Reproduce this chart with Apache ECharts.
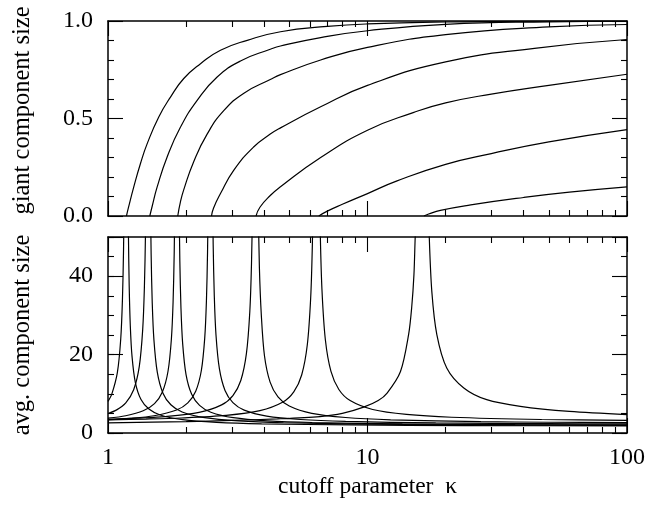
<!DOCTYPE html>
<html><head><meta charset="utf-8">
<script src="https://cdn.jsdelivr.net/npm/echarts@6/dist/echarts.min.js"></script>
<style>html,body{margin:0;padding:0;background:#fff}#c{width:654px;height:513px}</style>
</head><body><div id="c"></div>
<script>
// ---- Data (kappa, value) ----
const xTickMajor = [1, 10, 100];
const xTickMinor = [2,3,4,5,6,7,8,9,20,30,40,50,60,70,80,90];
const topYTicks = [0, 0.5, 1.0];
const bottomYLabels = [0, 20, 40];

// giant component size S(kappa), one curve per exponent
const giant1 = [[1.178,0],[1.2,0.045],[1.257,0.149],[1.334,0.269],[1.416,0.371],[1.569,0.508],[1.741,0.61],[1.959,0.705],[2.272,0.781],[2.713,0.85],[3.44,0.901],[4.62,0.945],[7,0.972],[10,0.985],[20,0.995],[50,0.999],[100,1.0]];
const giant2 = [[1.449,0],[1.48,0.05],[1.547,0.149],[1.69,0.303],[1.903,0.456],[2.206,0.593],[2.634,0.713],[3.24,0.795],[4.22,0.855],[4.62,0.872],[6.6,0.915],[10,0.95],[20,0.983],[50,0.996],[100,0.999]];
const giant3 = [[1.857,0],[1.9,0.07],[1.959,0.135],[2.141,0.28],[2.41,0.42],[2.793,0.54],[3.34,0.63],[4.22,0.70],[4.62,0.725],[6.6,0.80],[10,0.865],[20,0.93],[50,0.97],[100,0.982]];
const giant4 = [[2.505,0],[2.55,0.04],[2.713,0.115],[3.05,0.234],[3.64,0.354],[4.22,0.42],[4.62,0.452],[6.6,0.56],[10,0.67],[20,0.79],[44,0.86],[100,0.905]];
const giant5 = [[3.72,0],[3.85,0.045],[4.22,0.105],[4.62,0.15],[6.6,0.30],[10,0.44],[15,0.53],[20,0.58],[30,0.625],[50,0.67],[100,0.727]];
const giant6 = [[6.49,0],[7,0.025],[8,0.06],[10,0.115],[13,0.18],[20,0.265],[30,0.32],[50,0.38],[100,0.443]];
const giant7 = [[16.5,0],[17.2,0.01],[19.1,0.029],[25,0.057],[40,0.095],[60,0.122],[100,0.149]];

// average component size <s>(kappa): branch below and above the transition
const avg1Below = [[1,8.06],[1.0335,9.85],[1.0865,15.4],[1.1196,24],[1.1365,33.9],[1.148,47],[1.156,64.9]];
const avg1Above = [[1.1912,76.6],[1.1984,51.6],[1.2068,37.6],[1.2189,27.3],[1.2374,19.6],[1.275,12.85],[1.3404,8.52],[1.4376,6.1],[1.5888,4.6],[1.9405,3.4],[2.6195,2.73],[3.9078,2.35],[8.697,2.05],[23.65,1.9],[100,1.8]];
const avg2Below = [[1,4.97],[1.08,5.9],[1.1708,7.7],[1.2557,11.04],[1.3201,17],[1.3603,26.3],[1.3808,36.9],[1.3947,51.1],[1.4045,70.4]];
const avg2Above = [[1.456,62.8],[1.4662,45.7],[1.4809,33.1],[1.5033,23.7],[1.5491,15.45],[1.6285,10.16],[1.7466,7.2],[1.9303,5.37],[2.3577,3.9],[3.1825,3.08],[4.7478,2.62],[10.566,2.25],[28.73,2.07],[100,1.96]];
const avg3Below = [[1,3.8],[1.17,4.41],[1.3668,5.67],[1.5106,7.5],[1.6201,10.46],[1.7032,15.75],[1.755,24],[1.7816,33.4],[1.7994,46],[1.8121,63.1]];
const avg3Above = [[1.8785,60.1],[1.8917,43.8],[1.9107,31.8],[1.9396,22.8],[1.9987,14.9],[2.1011,9.88],[2.2535,7.05],[2.4905,5.3],[3.0419,3.9],[4.1061,3.11],[6.1256,2.68],[13.633,2.33],[37.07,2.15],[100,2.06]];
const avg4Below = [[1,3.41],[1.22,3.75],[1.5042,4.4],[1.8372,5.87],[2.0305,7.7],[2.1777,10.66],[2.2893,15.95],[2.359,24.2],[2.3947,33.6],[2.4188,46.2],[2.4358,63.3]];
const avg4Above = [[2.525,65.9],[2.5428,48],[2.5683,34.9],[2.6071,25],[2.6866,16.4],[2.8243,10.85],[3.0291,7.75],[3.3477,5.83],[4.0888,4.3],[5.5193,3.44],[8.2339,2.96],[18.325,2.58],[49.82,2.38],[100,2.31]];
const avg5Below = [[1,3.49],[1.3,3.8],[1.6625,4.19],[2.2442,5.26],[2.741,7.17],[3.0293,9.55],[3.249,13.4],[3.4155,20.3],[3.5196,31],[3.5728,43.3],[3.6086,59.6]];
const avg5Above = [[3.7937,58.2],[3.8318,42.2],[3.897,30.2],[4.0082,19.7],[4.2137,12.97],[4.5192,9.2],[4.9945,6.87],[6.1003,5],[8.2345,3.95],[12.284,3.37],[27.34,2.9],[50,2.74],[100,2.63]];
const avg6Below = [[1,3.37],[1.4,3.56],[1.9126,3.83],[2.8532,4.5],[3.8515,5.7],[4.7042,7.83],[5.1989,10.5],[5.5759,14.8],[5.8618,22.5],[6.0403,34.5],[6.1316,48.2],[6.1932,66.5]];
const avg6Above = [[6.5108,70.6],[6.5762,51.2],[6.6756,36.6],[6.8789,23.85],[7.2316,15.7],[7.7559,11.1],[8.5716,8.27],[10.469,6],[14.132,4.73],[21.083,4.02],[46.92,3.45],[100,3.22]];
const avg7Below = [[1,2.6],[2,2.9],[3,3.2],[4.5,3.6],[6.56,4.2],[8,5],[9.66,6.6],[11,8.3],[11.9,10.2],[13.4,15.7],[14.4,25.1],[14.8,32],[15.1,40.4],[15.27,50],[15.45,58],[15.7,83]];
const avg7Above = [[17.0,70],[17.3,50],[17.7,36],[18.5,25.1],[20.2,16.6],[23.5,11.5],[28.8,8.5],[38.8,6.8],[60,5.5],[100,4.7]];

const giantCurves = [giant1, giant2, giant3, giant4, giant5, giant6, giant7];
const avgCurves = [avg1Below, avg1Above, avg2Below, avg2Above, avg3Below, avg3Above, avg4Below, avg4Above,
                   avg5Below, avg5Above, avg6Below, avg6Above, avg7Below, avg7Above];

// ---- Chart ----
const FONT = 'Liberation Serif';
const BLACK = '#000';
function xAx(g, pos, vals, len, line, labels) {
  const a = {
    type: 'log', logBase: 10, gridIndex: g, position: pos, min: 1, max: 100,
    axisLine: { show: line, onZero: false, lineStyle: { color: BLACK, width: 1.5 } },
    axisTick: { show: true, inside: true, length: len, customValues: vals, lineStyle: { color: BLACK, width: 1.1 } },
    axisLabel: { show: false },
    splitLine: { show: false }, minorTick: { show: false }
  };
  if (labels) {
    a.axisLabel = { show: true, customValues: xTickMajor, margin: 13, color: BLACK, fontFamily: FONT, fontSize: 24 };
    a.name = 'cutoff parameter  \u03ba';
    a.nameLocation = 'middle';
    a.nameGap = 42;
    a.nameTextStyle = { color: BLACK, fontFamily: FONT, fontSize: 23.5 };
  }
  return a;
}
function yAx(g, pos, min, max, interval, len, line, labels, minor, name, namePad) {
  const a = {
    type: 'value', gridIndex: g, position: pos, min: min, max: max, interval: interval,
    axisLine: { show: line, onZero: false, lineStyle: { color: BLACK, width: 1.5 } },
    axisTick: { show: true, inside: true, length: len, lineStyle: { color: BLACK, width: 1.1 } },
    axisLabel: { show: false },
    splitLine: { show: false },
    minorTick: minor ? { show: true, splitNumber: minor, length: 6, lineStyle: { color: BLACK, width: 1.1 } } : { show: false }
  };
  if (labels) {
    a.axisLabel = { show: true, customValues: labels, margin: 15, color: BLACK, fontFamily: FONT, fontSize: 24,
      formatter: v => (max === 1 ? Number(v).toFixed(1) : String(v)) };
  }
  if (name) {
    a.name = name; a.nameLocation = 'middle'; a.nameGap = 73; a.nameRotate = 90;
    a.nameTextStyle = { color: BLACK, fontFamily: FONT, fontSize: 24.5, padding: namePad || 0 };
  }
  return a;
}

const xAxes = [
  xAx(0, 'bottom', xTickMajor, 15, true, false),
  xAx(0, 'bottom', xTickMinor, 6, false, false),
  xAx(0, 'top', xTickMajor, 15, true, false),
  xAx(0, 'top', xTickMinor, 6, false, false),
  xAx(1, 'bottom', xTickMajor, 15, true, true),
  xAx(1, 'bottom', xTickMinor, 6, false, false),
  xAx(1, 'top', xTickMajor, 15, true, false),
  xAx(1, 'top', xTickMinor, 6, false, false)
];
const yAxes = [
  yAx(0, 'left', 0, 1, 0.5, 15, true, topYTicks, 5, 'giant component size', [0, 0, 0, 16]),
  yAx(0, 'right', 0, 1, 0.5, 15, true, null, 5, null),
  yAx(1, 'left', 0, 50, 20, 15, true, bottomYLabels, 0, 'avg. component size'),
  yAx(1, 'left', 0, 50, 5, 6, false, null, 0, null),
  yAx(1, 'right', 0, 50, 20, 15, true, null, 0, null),
  yAx(1, 'right', 0, 50, 5, 6, false, null, 0, null)
];

const lineStyle = { color: BLACK, width: 1.2 };
const series = [];
giantCurves.forEach(d => series.push({ type: 'line', xAxisIndex: 0, yAxisIndex: 0, data: d, showSymbol: false,
  smooth: 0.5, lineStyle: lineStyle, clip: true, silent: true }));
avgCurves.forEach(d => series.push({ type: 'line', xAxisIndex: 4, yAxisIndex: 2, data: d, showSymbol: false,
  smooth: 0.3, lineStyle: lineStyle, clip: true, silent: true }));

const chart = echarts.init(document.getElementById('c'), null, { renderer: 'canvas' });
chart.setOption({
  animation: false,
  backgroundColor: '#fff',
  grid: [
    { left: 108, right: 27, top: 21, height: 195 },
    { left: 108, right: 27, top: 237, height: 196 }
  ],
  xAxis: xAxes,
  yAxis: yAxes,
  series: series
});
</script></body></html>
